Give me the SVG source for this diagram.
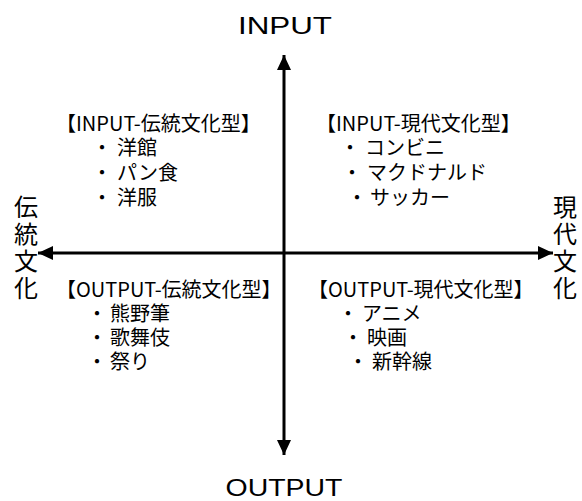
<svg xmlns="http://www.w3.org/2000/svg" width="582" height="501" viewBox="0 0 582 501">
<style>
.axis{stroke:#000;stroke-width:3;fill:none}
.ax{font-family:"Liberation Sans","DejaVu Sans",sans-serif;font-size:24px;fill:#000;text-anchor:middle}
.side{font-family:"Noto Sans CJK JP",sans-serif;font-size:24px;fill:#000;writing-mode:vertical-rl;letter-spacing:3px}
.q{font-family:"Noto Sans CJK JP",sans-serif;font-size:20px;fill:#000}
</style>
<defs>
<marker id="ah" markerUnits="userSpaceOnUse" markerWidth="16" markerHeight="16" viewBox="0 0 16 16" refX="15" refY="8" orient="auto-start-reverse">
<path d="M0,1 L15,8 L0,15 Z" fill="#000"/>
</marker>
</defs>
<g id="connectors">
<line class="axis" x1="284" y1="455" x2="284" y2="55" marker-start="url(#ah)" marker-end="url(#ah)"/>
<line class="axis" x1="38" y1="253" x2="553" y2="253" marker-start="url(#ah)" marker-end="url(#ah)"/>
</g>
<g id="input-label"><text class="ax" x="285" y="34" textLength="94" lengthAdjust="spacingAndGlyphs">INPUT</text></g>
<g id="output-label"><text class="ax" x="284" y="496" textLength="117" lengthAdjust="spacingAndGlyphs">OUTPUT</text></g>
<g id="traditional-label">
<text class="side" x="26" y="195">伝統文化</text>
</g>
<g id="modern-label">
<text class="side" x="565" y="195">現代文化</text>
</g>
<g id="q-input-traditional">
<text class="q"><tspan x="56" y="131">【INPUT-伝統文化型】</tspan><tspan x="92" y="155">・</tspan><tspan x="117" y="155">洋館</tspan><tspan x="92" y="180">・</tspan><tspan x="117" y="180">パン食</tspan><tspan x="92" y="205">・</tspan><tspan x="117" y="205">洋服</tspan></text>
</g>
<g id="q-input-modern">
<text class="q"><tspan x="316" y="131">【INPUT-現代文化型】</tspan><tspan x="340" y="155">・</tspan><tspan x="365" y="155">コンビニ</tspan><tspan x="342" y="180">・</tspan><tspan x="367" y="180">マクドナルド</tspan><tspan x="347" y="205">・</tspan><tspan x="370" y="205">サッカー</tspan></text>
</g>
<g id="q-output-traditional">
<text class="q"><tspan x="56" y="297">【OUTPUT-伝統文化型】</tspan><tspan x="87" y="321">・</tspan><tspan x="110" y="321">熊野筆</tspan><tspan x="87" y="345">・</tspan><tspan x="110" y="345">歌舞伎</tspan><tspan x="87" y="369">・</tspan><tspan x="110" y="369">祭り</tspan></text>
</g>
<g id="q-output-modern">
<text class="q"><tspan x="308" y="297">【OUTPUT-現代文化型】</tspan><tspan x="338" y="321">・</tspan><tspan x="362" y="321">アニメ</tspan><tspan x="343" y="345">・</tspan><tspan x="367" y="345">映画</tspan><tspan x="348" y="369">・</tspan><tspan x="372" y="369">新幹線</tspan></text>
</g>
</svg>
